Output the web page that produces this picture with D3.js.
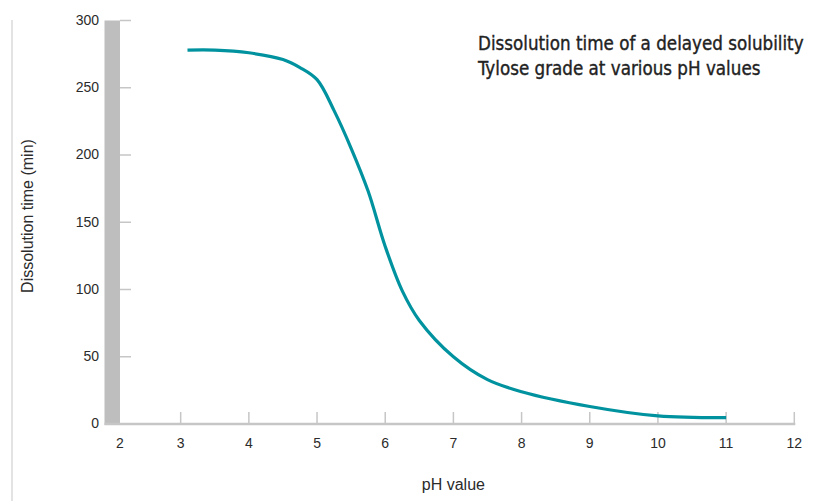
<!DOCTYPE html>
<html>
<head>
<meta charset="utf-8">
<script src="https://cdn.jsdelivr.net/npm/d3@7"></script>
<style>
  html, body { margin: 0; padding: 0; background: #fff; }
  svg { display: block; }
</style>
</head>
<body>
<svg id="chart" width="822" height="501"></svg>
<script>
// Data
const phValues = [3.1, 3.5, 4, 4.5, 4.75, 5, 5.25, 5.5, 5.75, 6, 6.25, 6.5, 7, 7.5, 8, 9, 10, 11];
const dissolutionMinutes = [278, 278, 276, 271, 265, 256, 233, 205, 173, 132, 99, 77, 50, 33, 24, 13, 6, 4.7];
const xTicks = [2, 3, 4, 5, 6, 7, 8, 9, 10, 11, 12];
const yTicks = [0, 50, 100, 150, 200, 250, 300];
const titleLines = ["Dissolution time of a delayed solubility", "Tylose grade at various pH values"];
const xTitle = "pH value";
const yTitle = "Dissolution time (min)";

const svg = d3.select("#chart");
const x = d3.scaleLinear().domain([2, 12]).range([112.5, 794.3]);
const y = d3.scaleLinear().domain([0, 300]).range([424, 20.5]);

const axisColor = "#c6c6c6";
const textColor = "#2b2b2b";
const tickFont = "Liberation Sans, Arial, sans-serif";

// far-left vertical rule
svg.append("line")
  .attr("x1", 12).attr("x2", 12).attr("y1", 20).attr("y2", 501)
  .attr("stroke", "#d0d0d0").attr("stroke-width", 1.2);

// thick gray y-axis bar centered on pH 2
svg.append("rect")
  .attr("x", x(2) - 8).attr("width", 15.5)
  .attr("y", y(300)).attr("height", y(0) - y(300) + 1)
  .attr("fill", "#bebebe");

// y ticks
svg.append("g").selectAll("line").data(yTicks.filter(d => d > 0)).join("line")
  .attr("x1", x(2) + 7.5).attr("x2", 131)
  .attr("y1", d => y(d)).attr("y2", d => y(d))
  .attr("stroke", axisColor).attr("stroke-width", 1.5);

// y tick labels
svg.append("g").selectAll("text").data(yTicks).join("text")
  .attr("x", 99).attr("y", d => y(d) - 0.5)
  .attr("dy", "0.35em")
  .attr("text-anchor", "end")
  .attr("font-family", tickFont).attr("font-size", 14)
  .attr("fill", textColor)
  .text(d => d);

// x axis baseline
svg.append("line")
  .attr("x1", x(2) - 8).attr("x2", x(12) + 1)
  .attr("y1", y(0)).attr("y2", y(0))
  .attr("stroke", axisColor).attr("stroke-width", 2.6);

// x ticks (pointing up)
svg.append("g").selectAll("line").data(xTicks.filter(d => d > 2)).join("line")
  .attr("x1", d => x(d)).attr("x2", d => x(d))
  .attr("y1", y(0)).attr("y2", y(0) - 12)
  .attr("stroke", axisColor).attr("stroke-width", 1.5);

// x tick labels
svg.append("g").selectAll("text").data(xTicks).join("text")
  .attr("x", d => d === 2 ? x(d) + 7.5 : x(d))
  .attr("y", 443)
  .attr("dy", "0.35em")
  .attr("text-anchor", "middle")
  .attr("font-family", tickFont).attr("font-size", 14)
  .attr("fill", textColor)
  .text(d => d);

// curve
const line = d3.line()
  .x((d, i) => x(phValues[i]))
  .y(d => y(d))
  .curve(d3.curveCatmullRom.alpha(0.5));
svg.append("path")
  .datum(dissolutionMinutes)
  .attr("d", line)
  .attr("fill", "none")
  .attr("stroke", "#00939f")
  .attr("stroke-width", 3.2)
  .attr("stroke-linecap", "butt");

// axis titles
svg.append("text")
  .attr("x", x(7)).attr("y", 484)
  .attr("dy", "0.35em")
  .attr("text-anchor", "middle")
  .attr("font-family", tickFont).attr("font-size", 16)
  .attr("fill", textColor)
  .text(xTitle);

svg.append("text")
  .attr("transform", "translate(27.5,216) rotate(-90)")
  .attr("dy", "0.35em")
  .attr("text-anchor", "middle")
  .attr("font-family", tickFont).attr("font-size", 16)
  .attr("fill", textColor)
  .text(yTitle);

// chart title: size the font so the first line spans the reference width
const titleFont = "Liberation Sans Narrow, Arial Narrow, DejaVu Sans Condensed, sans-serif";
const titleG = svg.append("g");
const titleTexts = titleG.selectAll("text").data(titleLines).join("text")
  .attr("x", 478)
  .attr("y", (d, i) => 50 + i * 24.5)
  .attr("font-family", titleFont)
  .attr("font-size", 21)
  .attr("fill", "#222")
  .attr("stroke", "#222")
  .attr("stroke-width", 0.35)
  .text(d => d);
const w0 = titleTexts.nodes()[0].getComputedTextLength();
if (w0 > 0) {
  const fs = Math.max(17, Math.min(23, 21 * 326 / w0));
  titleTexts.attr("font-size", fs);
}
</script>
</body>
</html>
